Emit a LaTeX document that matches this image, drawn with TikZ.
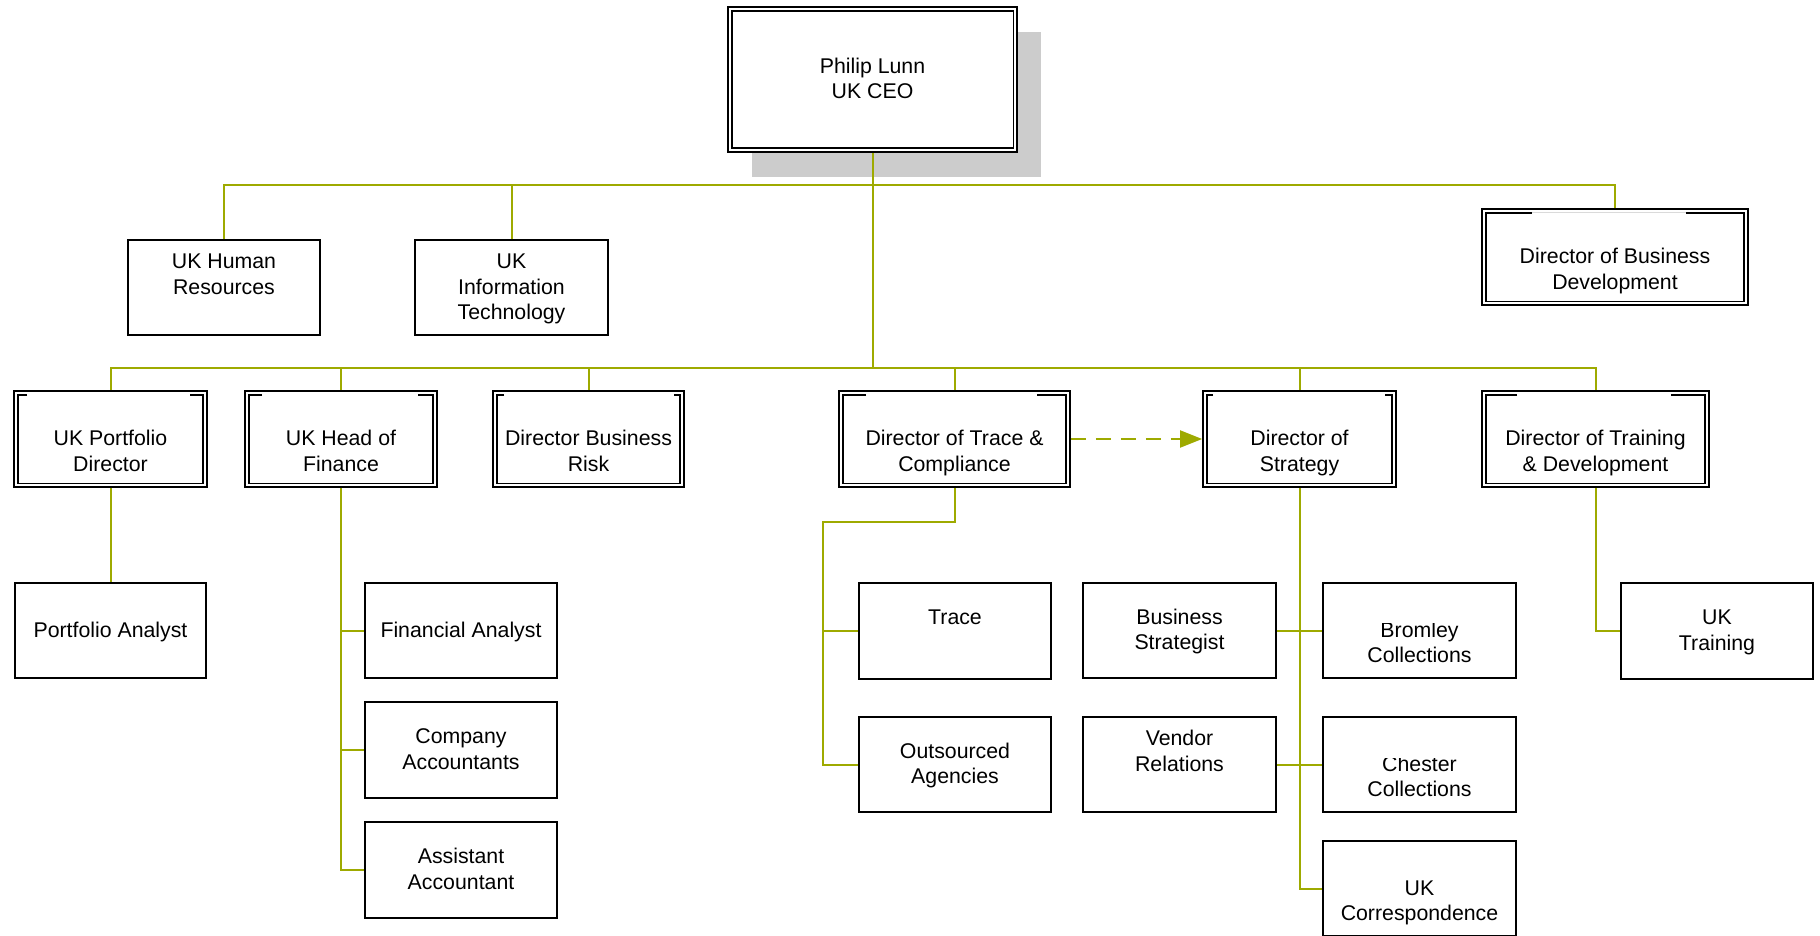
\documentclass[tikz,border=0pt]{standalone}
\usepackage{fontspec}
\setmainfont{Liberation Sans}
\usetikzlibrary{arrows.meta,shadows}
\definecolor{linegreen}{RGB}{158,170,0}
\definecolor{shadowgray}{RGB}{204,204,204}
\definecolor{faintgray}{RGB}{218,218,218}
% line strut: height 19.35pt, depth 6.15pt (one baselineskip)
\newcommand{\st}{\rule[-6.15pt]{0pt}{25.5pt}}
% inner frame with open top: #1 node, #2 left segment, #3 right segment
\newcommand{\innerframe}[3]{%
  \draw[frame] ([xshift=5pt+#2pt,yshift=-4.5pt]#1.north west) -- ([xshift=5pt,yshift=-4.5pt]#1.north west)
    -- ([xshift=5pt,yshift=4.5pt]#1.south west) -- ([xshift=-5pt,yshift=4.5pt]#1.south east)
    -- ([xshift=-5pt,yshift=-4.5pt]#1.north east) -- ([xshift=-5pt-#3pt,yshift=-4.5pt]#1.north east);}
\begin{document}
\begin{tikzpicture}[x=1pt,y=-1pt,
  txt/.style={inner sep=0pt, align=center, font=\fontsize{21.3}{25.5}\selectfont},
  box/.style={txt, draw=black, line width=1.8pt, fill=white, rectangle, minimum width=192pt, minimum height=95pt},
  dirbox/.style={box, minimum height=96pt},
  frame/.style={draw=black, line width=1.8pt},
  conn/.style={draw=linegreen, line width=2pt},
]
\useasboundingbox (0,0) rectangle (1820,935);

% ---- CEO ----
\node[box, minimum width=289pt, minimum height=145pt,
      drop shadow={shadow xshift=24pt, shadow yshift=-24.5pt, fill=shadowgray, opacity=1}]
      (ceo) at (872.5,79.5) {\st Philip Lunn\\\st UK CEO};
\draw[frame] ([xshift=5pt,yshift=-5pt]ceo.north west) rectangle ([xshift=-4.5pt,yshift=5pt]ceo.south east);

% ---- level 1 ----
\node[box] (hr) at (224,287.5) {\st UK Human\\\st Resources\\\st};
\node[box, minimum width=193pt] (it) at (511.5,287.5) {\st UK\\\st Information\\\st Technology};
\node[dirbox, minimum width=266pt] (bd) at (1615,257) {\st\\\st Director of Business\\\st Development};
\draw[faintgray, line width=1.2pt] ([xshift=51pt,yshift=-4.5pt]bd.north west) -- ([xshift=-63pt,yshift=-4.5pt]bd.north east);
\innerframe{bd}{46}{58}

% ---- level 2 ----
\node[dirbox, minimum width=193pt] (pd) at (110.5,439) {\st\\\st UK Portfolio\\\st Director};
\innerframe{pd}{9}{13}
\node[dirbox] (hf) at (341,439) {\st\\\st UK Head of\\\st Finance};
\innerframe{hf}{13}{15}
\node[dirbox, minimum width=191pt] (rk) at (588.5,439) {\st\\\st Director Business\\\st Risk};
\innerframe{rk}{7}{6}
\node[dirbox, minimum width=231pt] (dt) at (954.5,439) {\st\\\st Director of Trace \&\\\st Compliance};
\innerframe{dt}{23}{29}
\node[dirbox, minimum width=193pt] (ds) at (1299.5,439) {\st\\\st Director of\\\st Strategy};
\innerframe{ds}{6}{7}
\node[dirbox, minimum width=227pt] (dtd) at (1595.5,439) {\st\\\st Director of Training\\\st \& Development};
\innerframe{dtd}{31}{34}

% ---- level 3 ----
\node[box, minimum width=191pt] (pa) at (110.5,630.5) {\st Portfolio Analyst};
\node[box] (fa) at (461,630.5) {\st Financial Analyst};
\node[box, minimum height=96pt] (ca) at (461,750) {\st Company\\\st Accountants};
\node[box, minimum height=96pt] (aa) at (461,870) {\st Assistant\\\st Accountant};
\node[box, minimum height=96pt] (tc) at (955,631) {\st Trace\\\st};
\node[box] (oa) at (955,764.5) {\st Outsourced\\\st Agencies};
\node[box, minimum width=193pt] (bs) at (1179.5,630.5) {\st Business\\\st Strategist};
\node[box, minimum width=193pt] (vr) at (1179.5,764.5) {\st Vendor\\\st Relations\\\st};
\node[box, minimum width=193pt] (bm) at (1419.5,630.5) {};
\begin{scope}
  \clip ([yshift=-41.5pt]bm.north west) rectangle (bm.south east);
  \node[txt] (bmt) at (bm.center) {\st\\\st Bromley\\\st Collections};
\end{scope}
\node[box, minimum width=193pt] (ch) at (1419.5,764.5) {};
\begin{scope}
  \clip ([yshift=-42.5pt]ch.north west) rectangle (ch.south east);
  \node[txt] (cht) at (ch.center) {\st\\\st Chester\\\st Collections};
\end{scope}
\node[box, minimum width=193pt] (uc) at (1419.5,888.5) {\st\\\st UK\\\st Correspondence};
\node[box, minimum height=96pt] (ukt) at (1717,631) {\st UK\\\st Training};

% ---- connectors ----
\coordinate (busA) at (ceo.south |- 0,185);
\coordinate (busB) at (ceo.south |- 0,368);
\coordinate (tj) at (823,522);
\draw[conn] (hr.north) -- (hr.north |- busA) -- (bd.north |- busA) -- (bd.north);
\draw[conn] (it.north) -- (it.north |- busA);
\draw[conn] (ceo.south) -- (busB);
\draw[conn] (pd.north) -- (pd.north |- busB) -- (dtd.north |- busB) -- (dtd.north);
\foreach \n in {hf,rk,dt,ds}{\draw[conn] (\n.north) -- (\n.north |- busB);}
\draw[conn] (pd.south) -- (pa.north);
\draw[conn] (hf.south) -- (hf.south |- aa.west) -- (aa.west);
\draw[conn] (hf.south |- fa.west) -- (fa.west);
\draw[conn] (hf.south |- ca.west) -- (ca.west);
\draw[conn] (dt.south) |- (tj) -- (tj |- oa.west) -- (oa.west);
\draw[conn] (tj |- tc.west) -- (tc.west);
\draw[conn] (ds.south) -- (ds.south |- uc.west) -- (uc.west);
\draw[conn] (bs.east) -- (bm.west);
\draw[conn] (vr.east) -- (ch.west);
\draw[conn] (dtd.south) |- (ukt.west);
\draw[conn, dash pattern=on 15pt off 10pt, -{Triangle[length=22pt,width=17pt,fill=linegreen]}] (dt.east) -- (ds.west);
\end{tikzpicture}
\end{document}
